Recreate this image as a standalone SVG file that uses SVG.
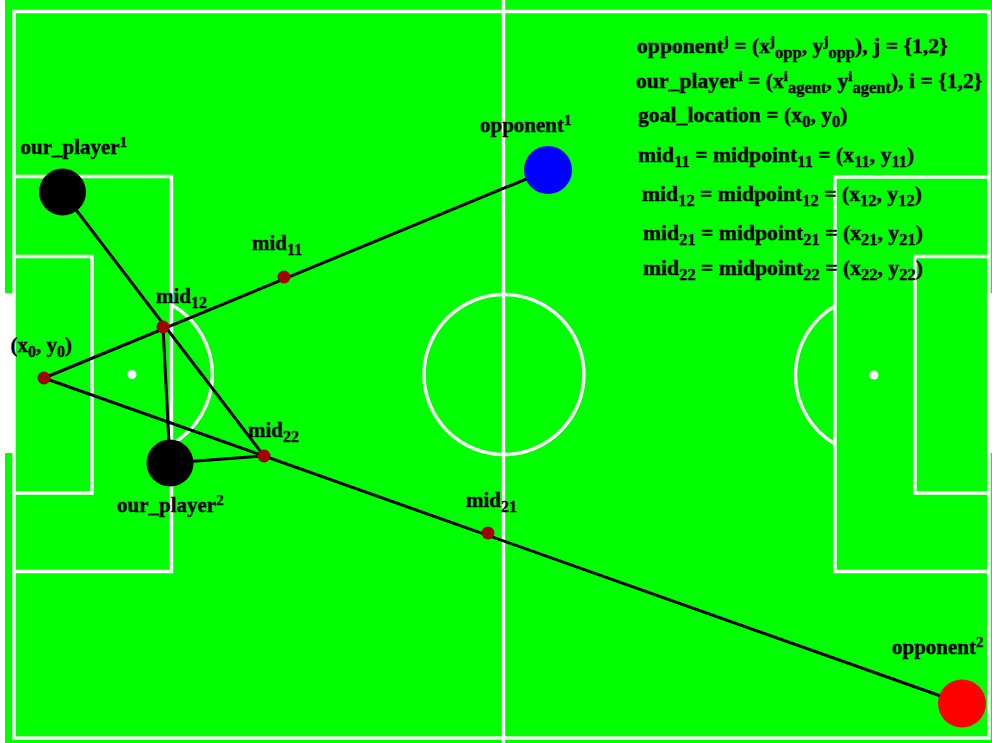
<svg xmlns="http://www.w3.org/2000/svg" width="992" height="743" viewBox="0 0 992 743">
  <style>
    .line { fill: none; stroke: #ffffff; stroke-width: 3.4; }
    .spot { fill: #ffffff; }
    .edge { stroke: #000000; stroke-width: 3; fill: none; stroke-linecap: round; }
    .mid { fill: #a30000; }
    text { font-family: "Liberation Serif", "Times New Roman", serif; font-weight: bold; font-size: 21px; fill: #000000; stroke: #000000; stroke-width: 0.35; }
    .sub { font-size: 16px; }
    .sup { font-size: 15px; }
    #legend text { font-size: 21.7px; }
    #legend .sub { font-size: 16.5px; }
    #legend .sup { font-size: 15px; }
  </style>

  <!-- pitch -->
  <g id="pitch">
    <rect x="0" y="0" width="992" height="743" fill="#00ff00"/>
    <rect x="0" y="0" width="5" height="743" fill="#ffffff"/>
    <rect x="0" y="293" width="14" height="160" fill="#ffffff"/>
    <rect x="989" y="293" width="3" height="160" fill="#ffffff"/>
    <rect class="line" x="14" y="11.5" width="975" height="726.5"/>
    <line class="line" x1="503.5" y1="0" x2="503.5" y2="743"/>
    <circle class="line" cx="504" cy="374.5" r="80"/>
    <!-- left penalty area -->
    <polyline class="line" points="14,176.5 171.5,176.5 171.5,571.5 14,571.5"/>
    <polyline class="line" points="14,256.5 92,256.5 92,493 14,493"/>
    <circle class="spot" cx="132" cy="374.5" r="4.5"/>
    <path class="line" d="M171.5,304.7 A80,80 0 0 1 171.5,444.3"/>
    <!-- right penalty area -->
    <polyline class="line" points="989,177 835,177 835,571.5 989,571.5"/>
    <polyline class="line" points="989,256.5 915,256.5 915,493 989,493"/>
    <circle class="spot" cx="874" cy="375" r="4.5"/>
    <path class="line" d="M835,306 A80,80 0 0 0 835,444"/>
  </g>

  <!-- connectors -->
  <g id="connectors">
    <line class="edge" x1="44" y1="378" x2="548" y2="170"/>
    <line class="edge" x1="44" y1="378" x2="962" y2="703.5"/>
    <line class="edge" x1="62.5" y1="192" x2="264" y2="456"/>
    <line class="edge" x1="170" y1="463" x2="163" y2="327"/>
    <line class="edge" x1="170" y1="463" x2="264" y2="456"/>
  </g>

  <!-- players -->
  <g id="our_player1">
    <circle cx="62.5" cy="192" r="23.5" fill="#000000"/>
    <text x="20.5" y="154">our_player<tspan class="sup" baseline-shift="7">1</tspan></text>
  </g>
  <g id="our_player2">
    <circle cx="170" cy="463" r="23.5" fill="#000000"/>
    <text x="117" y="512">our_player<tspan class="sup" baseline-shift="7">2</tspan></text>
  </g>
  <g id="opponent1">
    <circle cx="548" cy="170" r="24" fill="#0000ff"/>
    <text x="480" y="132">opponent<tspan class="sup" baseline-shift="7">1</tspan></text>
  </g>
  <g id="opponent2">
    <circle cx="962" cy="703.5" r="24" fill="#ff0000"/>
    <text x="892" y="654">opponent<tspan class="sup" baseline-shift="7">2</tspan></text>
  </g>

  <!-- goal location and midpoints -->
  <g id="goal">
    <circle class="mid" cx="44" cy="378" r="6.5"/>
    <text x="10.5" y="352">(x<tspan class="sub" baseline-shift="-5">0</tspan>, y<tspan class="sub" baseline-shift="-5">0</tspan>)</text>
  </g>
  <g id="mid11">
    <circle class="mid" cx="284" cy="277" r="6.5"/>
    <text x="252" y="250">mid<tspan class="sub" baseline-shift="-5">11</tspan></text>
  </g>
  <g id="mid12">
    <circle class="mid" cx="163" cy="327" r="6.5"/>
    <text x="156" y="303">mid<tspan class="sub" baseline-shift="-5">12</tspan></text>
  </g>
  <g id="mid21">
    <circle class="mid" cx="488" cy="533" r="6.5"/>
    <text x="466" y="507">mid<tspan class="sub" baseline-shift="-5">21</tspan></text>
  </g>
  <g id="mid22">
    <circle class="mid" cx="264" cy="456" r="6.5"/>
    <text x="248" y="437">mid<tspan class="sub" baseline-shift="-5">22</tspan></text>
  </g>

  <!-- legend -->
  <g id="legend">
    <text x="637" y="53">opponent<tspan class="sup" baseline-shift="7">j</tspan> = (x<tspan class="sup" baseline-shift="7">j</tspan><tspan class="sub" baseline-shift="-5">opp</tspan>, y<tspan class="sup" baseline-shift="7">j</tspan><tspan class="sub" baseline-shift="-5">opp</tspan>), j = {1,2}</text>
    <text x="636" y="88">our_player<tspan class="sup" baseline-shift="7">i</tspan> = (x<tspan class="sup" baseline-shift="7">i</tspan><tspan class="sub" baseline-shift="-5">agent</tspan>, y<tspan class="sup" baseline-shift="7">i</tspan><tspan class="sub" baseline-shift="-5">agent</tspan>), i = {1,2}</text>
    <text x="638" y="122">goal_location = (x<tspan class="sub" baseline-shift="-5">0</tspan>, y<tspan class="sub" baseline-shift="-5">0</tspan>)</text>
    <text x="638" y="162">mid<tspan class="sub" baseline-shift="-5">11</tspan> = midpoint<tspan class="sub" baseline-shift="-5">11</tspan> = (x<tspan class="sub" baseline-shift="-5">11</tspan>, y<tspan class="sub" baseline-shift="-5">11</tspan>)</text>
    <text x="642" y="201">mid<tspan class="sub" baseline-shift="-5">12</tspan> = midpoint<tspan class="sub" baseline-shift="-5">12</tspan> = (x<tspan class="sub" baseline-shift="-5">12</tspan>, y<tspan class="sub" baseline-shift="-5">12</tspan>)</text>
    <text x="643" y="240">mid<tspan class="sub" baseline-shift="-5">21</tspan> = midpoint<tspan class="sub" baseline-shift="-5">21</tspan> = (x<tspan class="sub" baseline-shift="-5">21</tspan>, y<tspan class="sub" baseline-shift="-5">21</tspan>)</text>
    <text x="643" y="275">mid<tspan class="sub" baseline-shift="-5">22</tspan> = midpoint<tspan class="sub" baseline-shift="-5">22</tspan> = (x<tspan class="sub" baseline-shift="-5">22</tspan>, y<tspan class="sub" baseline-shift="-5">22</tspan>)</text>
  </g>
</svg>
